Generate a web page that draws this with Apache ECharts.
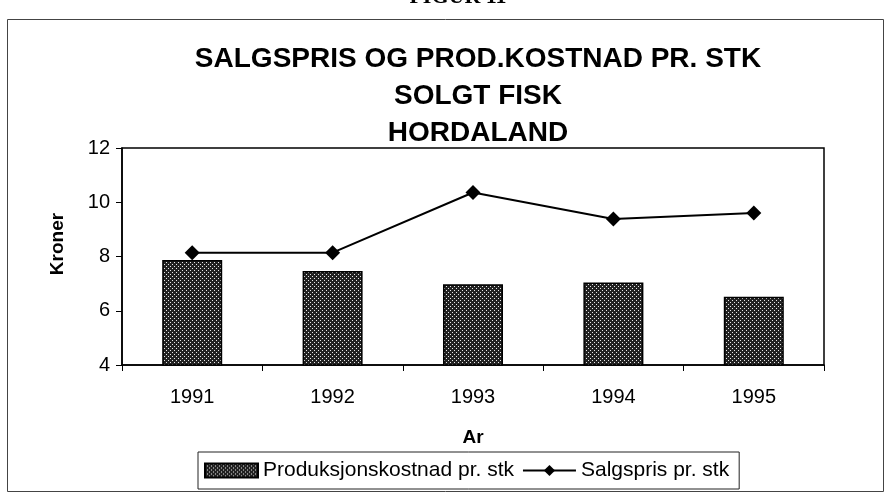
<!DOCTYPE html>
<html>
<head>
<meta charset="utf-8">
<script src="https://cdn.jsdelivr.net/npm/echarts@6/dist/echarts.min.js"></script>
<style>
  html, body { margin: 0; padding: 0; background: #fff; }
  #fisk { width: 891px; height: 499px; }
</style>
</head>
<body>
<div id="fisk"></div>
<script>
// salgspris og produksjonskostnad, solgt fisk hordaland

var years = ['1991', '1992', '1993', '1994', '1995']
var prodkost = [7.87, 7.47, 6.98, 7.04, 6.52]
var salgspris = [8.14, 8.14, 10.36, 9.38, 9.6]
var yTicks = [4, 6, 8, 10, 12]

// prikkete moenster til soeylene
function dots () {
  var c = document.createElement('canvas')
  c.width = 4
  c.height = 4
  var ctx = c.getContext('2d')
  ctx.fillStyle = '#222'
  ctx.fillRect(0, 0, 4, 4)
  ctx.fillStyle = '#e8e8e8'
  ctx.fillRect(0, 0, 1, 1)
  ctx.fillRect(2, 2, 1, 1)
  return c
}

var chart = echarts.init(document.getElementById('fisk'))
var font = 'Liberation Sans, Arial, sans-serif'
var pattern = { image: dots(), repeat: 'repeat' }

var option = {
  backgroundColor: '#fff',
  animation: false,
  textStyle: { fontFamily: font, color: '#000' },
  title: {
    text: 'SALGSPRIS OG PROD.KOSTNAD PR. STK\nSOLGT FISK\nHORDALAND',
    left: 473,
    textAlign: 'center',
    top: 36,
    textStyle: { fontSize: 28, fontWeight: 'bold', lineHeight: 37, color: '#000', fontFamily: font }
  },
  legend: {
    left: 198,
    top: 452,
    padding: [8, 10, 8, 6],
    borderColor: '#222',
    borderWidth: 1,
    itemWidth: 53,
    itemHeight: 14,
    itemGap: 8,
    textStyle: { fontSize: 21, color: '#000', fontFamily: font },
    data: [
      { name: 'Produksjonskostnad pr. stk', icon: 'rect' },
      { name: 'Salgspris pr. stk' }
    ]
  },
  grid: {
    left: 122, right: 67, top: 148, bottom: 134,
    show: true, borderColor: '#000', borderWidth: 1.5
  },
  xAxis: {
    type: 'category',
    data: years,
    name: 'Ar',
    nameLocation: 'middle',
    nameGap: 63,
    nameTextStyle: { fontSize: 19, fontWeight: 'bold', color: '#000' },
    axisLine: { lineStyle: { color: '#000', width: 1.5 } },
    axisTick: { show: true, length: 6, lineStyle: { color: '#000' } },
    axisLabel: { fontSize: 20, color: '#000', margin: 22 }
  },
  yAxis: {
    type: 'value',
    min: yTicks[0],
    max: yTicks[yTicks.length - 1],
    interval: 2,
    splitLine: { show: false },
    axisLine: { show: true, lineStyle: { color: '#000', width: 1.5 } },
    axisTick: { show: true, length: 6, lineStyle: { color: '#000' } },
    axisLabel: { fontSize: 20, color: '#000', margin: 12 }
  },
  graphic: [
    { type: 'rect', shape: { x: 7.5, y: 19.5, width: 876, height: 472 },
      style: { fill: null, stroke: '#444', lineWidth: 1 }, z: -1 },
    { type: 'text', x: 458, y: 8,
      style: { text: 'FIGUR 11', font: 'bold 22px Liberation Serif', fill: '#000',
               textAlign: 'center', textVerticalAlign: 'bottom' } },
    { type: 'text', x: 58, y: 244, rotation: Math.PI / 2,
      style: { text: 'Kroner', font: 'bold 19px ' + font, fill: '#000',
               textAlign: 'center', textVerticalAlign: 'middle' } }
  ],
  series: [
    {
      name: 'Produksjonskostnad pr. stk',
      type: 'bar',
      data: prodkost,
      barWidth: 60,
      itemStyle: {
        color: pattern,
        borderColor: '#000',
        borderWidth: 1.5
      }
    },
    {
      name: 'Salgspris pr. stk',
      type: 'line',
      data: salgspris,
      symbol: 'diamond',
      symbolSize: 15,
      lineStyle: { color: '#000', width: 2 },
      itemStyle: { color: '#000' }
    }
  ]
}

chart.setOption(option)
</script>
</body>
</html>
